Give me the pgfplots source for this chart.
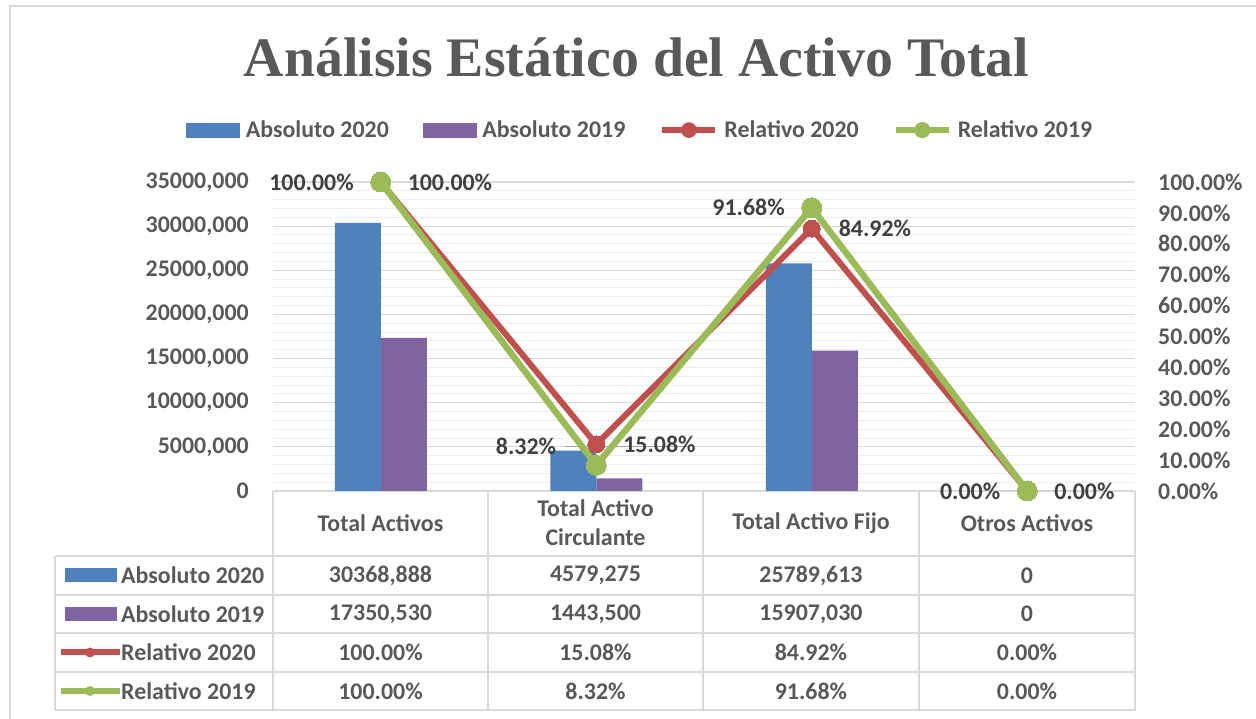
\documentclass[border=0pt]{standalone}
\usepackage{fontspec}
\setmainfont{Carlito}
\newfontfamily\titlefont{Liberation Serif}
\usepackage{pgfplots}
\pgfplotsset{compat=1.18}
\definecolor{cBlue}{HTML}{4F81BD}
\definecolor{cPurple}{HTML}{8064A2}
\definecolor{cRed}{HTML}{C0504D}
\definecolor{cGreen}{HTML}{9BBB59}
\definecolor{cText}{HTML}{595959}
\definecolor{cLabel}{HTML}{404040}
\definecolor{cGrid}{HTML}{D9D9D9}
\definecolor{cMinor}{HTML}{EDEDED}
\newcommand{\fs}{\fontsize{24}{28}\selectfont\bfseries}
\newcommand{\fsb}{\fontsize{24}{29}\selectfont\bfseries}
\begin{document}
\begin{tikzpicture}
\path[use as bounding box] (0,0) rectangle (1256bp,719bp);
\draw[cGrid, line width=1.2bp] (10bp,0) -- (10bp,713bp) -- (1256bp,713bp);
\node[font=\titlefont\fontsize{56}{64}\selectfont\bfseries, text=cText] at (636.5bp,662bp) {Análisis Estático del Activo Total};

% data table lines (drawn first, under the labels)
\begin{scope}[cGrid, line width=1.5bp]
\draw (273bp,228bp) -- (1135bp,228bp);
\foreach \x in {273,488,703,919,1135} \draw (\x bp,228bp) -- (\x bp,9bp);
\foreach \y in {163,124,86,47,9} \draw (55bp,\y bp) -- (1135bp,\y bp);
\draw (55bp,163bp) -- (55bp,9bp);
\end{scope}

\begin{axis}[
  at={(273bp,228bp)}, anchor=south west, scale only axis,
  width=862bp, height=309bp,
  xmin=-0.5, xmax=3.5, ymin=0, ymax=35000000,
  xtick=\empty, scaled y ticks=false,
  ytick={0,5000000,10000000,15000000,20000000,25000000,30000000,35000000},
  yticklabels={0,{5000,000},{10000,000},{15000,000},{20000,000},{25000,000},{30000,000},{35000,000}},
  minor y tick num=4,
  ymajorgrids, yminorgrids,
  major grid style={cGrid, line width=1.2bp},
  minor grid style={cMinor, line width=1bp},
  axis line style={draw=none},
  major tick length=0, minor tick length=0,
  yticklabel style={font=\fs, text=cText, inner sep=0pt, xshift=-24bp},
  ybar=0pt, bar width=46bp,
]
\addplot[fill=cBlue, draw=none] coordinates {(0,30368888) (1,4579275) (2,25789613) (3,0)};
\addplot[fill=cPurple, draw=none] coordinates {(0,17350530) (1,1443500) (2,15907030) (3,0)};
\end{axis}

\begin{axis}[
  at={(273bp,228bp)}, anchor=south west, scale only axis,
  width=862bp, height=309bp,
  xmin=-0.5, xmax=3.5, ymin=0, ymax=100,
  axis y line*=right, axis x line=none,
  ytick={0,10,20,30,40,50,60,70,80,90,100},
  yticklabels={0.00\%,10.00\%,20.00\%,30.00\%,40.00\%,50.00\%,60.00\%,70.00\%,80.00\%,90.00\%,100.00\%},
  axis line style={draw=none},
  major tick length=0,
  yticklabel style={font=\fs, text=cText, inner sep=0pt, xshift=23bp, anchor=west},
  clip=false,
  legend columns=4,
  legend style={at={(0.425,1.168)}, anchor=center, draw=none, fill=none,
    font=\fs, text=cText, nodes={inner sep=0pt},
    /tikz/every even column/.append style={column sep=34bp},
    /tikz/every odd column/.append style={column sep=6bp}},
]
\addlegendimage{legend image code/.code={\fill[cBlue] (0bp,-7bp) rectangle (53bp,7bp);}}
\addlegendentry{Absoluto 2020}
\addlegendimage{legend image code/.code={\fill[cPurple] (0bp,-7bp) rectangle (53bp,7bp);}}
\addlegendentry{Absoluto 2019}

\draw[gray!70, line width=1bp] (axis cs:1,8.32) ++(-32bp,19bp) -- ++(16bp,0);
\node[anchor=east, font=\fs, text=cLabel, inner sep=0pt] at (axis cs:1,8.32) [xshift=-40bp, yshift=19bp] {8.32\%};

\addplot[cRed, line width=6bp, line join=round, mark=*, mark size=8.5bp,
  mark options={fill=cRed, draw=cRed, line width=0pt},
  point meta=explicit symbolic,
  nodes near coords={\pgfplotspointmeta},
  every node near coord/.append style={anchor=west, xshift=27bp, inner sep=0pt, font=\fs, text=cLabel},
  legend image code/.code={\draw[cRed, line width=6bp] (0bp,0bp) -- (53bp,0bp); \fill[cRed] (26.5bp,0bp) circle (5bp);}]
  coordinates {(0,100) [100.00\%] (1,15.08) [15.08\%] (2,84.92) [84.92\%] (3,0) [0.00\%]};
\addlegendentry{Relativo 2020}
\addplot[cGreen, line width=6.5bp, line join=round, mark=*, mark size=10bp,
  mark options={fill=cGreen, draw=cGreen, line width=0pt},
  point meta=explicit symbolic,
  nodes near coords={\pgfplotspointmeta},
  every node near coord/.append style={anchor=east, xshift=-27bp, inner sep=0pt, font=\fs, text=cLabel},
  legend image code/.code={\draw[cGreen, line width=6bp] (0bp,0bp) -- (53bp,0bp); \fill[cGreen] (26.5bp,0bp) circle (5bp);}]
  coordinates {(0,100) [100.00\%] (1,8.32) [] (2,91.68) [91.68\%] (3,0) [0.00\%]};
\addlegendentry{Relativo 2019}
\end{axis}

% data table text
\begin{scope}[every node/.style={font=\fs, text=cText, inner sep=0pt}]
\node at (380.5bp,196bp) {Total Activos};
\node[align=center, font=\fsb] at (595.5bp,196bp) {Total Activo\\Circulante};
\node at (811bp,196bp) {Total Activo Fijo};
\node at (1027bp,196bp) {Otros Activos};
\fill[cBlue] (65bp,136.5bp) rectangle (117bp,150.5bp);
\fill[cPurple] (65bp,98bp) rectangle (117bp,112bp);
\draw[cRed, line width=6bp] (61bp,66.5bp) -- (120bp,66.5bp);
\fill[cRed] (90bp,66.5bp) circle (5bp);
\draw[cGreen, line width=6bp] (61bp,28bp) -- (120bp,28bp);
\fill[cGreen] (90bp,28bp) circle (5bp);
\node[anchor=west] at (121bp,143.5bp) {Absoluto 2020};
\node[anchor=west] at (121bp,105bp) {Absoluto 2019};
\node[anchor=west] at (121bp,66.5bp) {Relativo 2020};
\node[anchor=west] at (121bp,28bp) {Relativo 2019};
\node at (380.5bp,143.5bp) {30368,888};
\node at (595.5bp,143.5bp) {4579,275};
\node at (811bp,143.5bp) {25789,613};
\node at (1027bp,143.5bp) {0};
\node at (380.5bp,105bp) {17350,530};
\node at (595.5bp,105bp) {1443,500};
\node at (811bp,105bp) {15907,030};
\node at (1027bp,105bp) {0};
\node at (380.5bp,66.5bp) {100.00\%};
\node at (595.5bp,66.5bp) {15.08\%};
\node at (811bp,66.5bp) {84.92\%};
\node at (1027bp,66.5bp) {0.00\%};
\node at (380.5bp,28bp) {100.00\%};
\node at (595.5bp,28bp) {8.32\%};
\node at (811bp,28bp) {91.68\%};
\node at (1027bp,28bp) {0.00\%};
\end{scope}
\end{tikzpicture}
\end{document}
